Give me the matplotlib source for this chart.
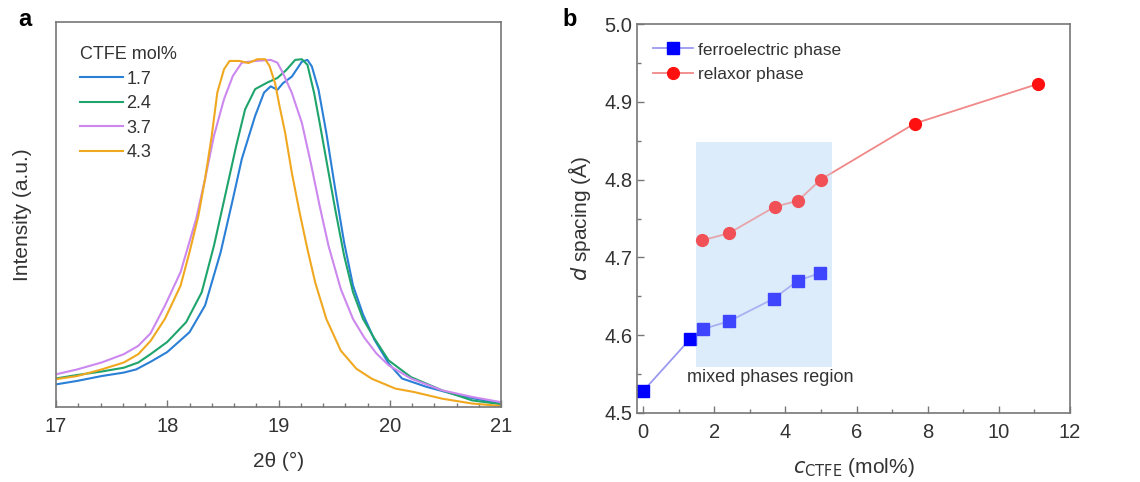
import matplotlib.pyplot as plt
from matplotlib.ticker import MultipleLocator
from matplotlib.patches import Rectangle

plt.rcParams["font.family"] = ["Liberation Sans", "DejaVu Sans"]

# ---- panel a: XRD peaks (normalised intensity) ----
two_theta_blue = [17.0, 17.19, 17.41, 17.61, 17.72, 17.85, 18.0, 18.2, 18.34, 18.48,
                  18.59, 18.67, 18.79, 18.87, 18.93, 18.99, 19.04, 19.12, 19.21, 19.26,
                  19.3, 19.36, 19.43, 19.51, 19.59, 19.67, 19.76, 19.86, 19.99, 20.11,
                  20.33, 20.61, 20.8, 21.0]
int_blue = [0.065, 0.075, 0.089, 0.099, 0.108, 0.130, 0.158, 0.215, 0.292, 0.445,
            0.598, 0.713, 0.837, 0.904, 0.922, 0.912, 0.931, 0.950, 0.993, 0.998,
            0.979, 0.912, 0.788, 0.626, 0.473, 0.349, 0.266, 0.195, 0.125, 0.082,
            0.058, 0.034, 0.022, 0.010]

two_theta_green = [17.0, 17.19, 17.41, 17.61, 17.74, 17.85, 18.0, 18.17, 18.31, 18.42,
                   18.54, 18.62, 18.7, 18.79, 18.9, 18.99, 19.07, 19.15, 19.21, 19.26,
                   19.32, 19.37, 19.44, 19.51, 19.59, 19.67, 19.76, 19.86, 19.99, 20.19,
                   20.47, 20.74, 21.0]
int_green = [0.082, 0.092, 0.102, 0.113, 0.128, 0.152, 0.187, 0.244, 0.330, 0.464,
             0.636, 0.751, 0.856, 0.914, 0.933, 0.946, 0.969, 0.998, 1.0, 0.984,
             0.903, 0.817, 0.692, 0.568, 0.435, 0.330, 0.253, 0.198, 0.134, 0.086,
             0.048, 0.019, 0.008]

two_theta_purple = [17.0, 17.19, 17.41, 17.61, 17.74, 17.85, 17.98, 18.12, 18.26, 18.34,
                    18.42, 18.51, 18.59, 18.67, 18.79, 18.93, 18.99, 19.04, 19.12, 19.21,
                    19.29, 19.37, 19.45, 19.56, 19.67, 19.77, 19.88, 19.99, 20.19, 20.47,
                    20.74, 21.0]
int_purple = [0.094, 0.108, 0.128, 0.152, 0.176, 0.212, 0.292, 0.388, 0.541, 0.656,
              0.780, 0.885, 0.952, 0.990, 0.995, 0.998, 0.990, 0.960, 0.903, 0.817,
              0.702, 0.578, 0.463, 0.339, 0.253, 0.200, 0.154, 0.120, 0.082, 0.048,
              0.029, 0.014]

two_theta_orange = [17.0, 17.19, 17.41, 17.61, 17.74, 17.85, 17.98, 18.12, 18.2, 18.28,
                    18.34, 18.4, 18.45, 18.51, 18.56, 18.65, 18.73, 18.81, 18.88, 18.92,
                    18.97, 19.01, 19.06, 19.12, 19.19, 19.26, 19.33, 19.43, 19.56, 19.7,
                    19.84, 20.05, 20.22, 20.47, 20.74, 21.0]
int_orange = [0.080, 0.089, 0.108, 0.128, 0.152, 0.190, 0.254, 0.349, 0.445, 0.550,
              0.656, 0.780, 0.904, 0.971, 0.995, 0.995, 0.989, 1.0, 1.0, 0.980,
              0.930, 0.864, 0.788, 0.673, 0.559, 0.454, 0.358, 0.253, 0.162, 0.110,
              0.081, 0.053, 0.043, 0.024, 0.010, 0.003]

ctfe_labels = ["1.7", "2.4", "3.7", "4.3"]

# ---- panel b: d spacing vs CTFE content ----
c_ferro = [0.0, 1.32, 1.69, 2.42, 3.67, 4.35, 4.98]
d_ferro = [4.528, 4.595, 4.608, 4.618, 4.647, 4.670, 4.680]
c_relax = [1.67, 2.41, 3.70, 4.36, 4.99, 7.63, 11.10]
d_relax = [4.722, 4.731, 4.765, 4.773, 4.800, 4.872, 4.923]
mixed_lo, mixed_hi = 1.5, 5.31
mixed_bottom, mixed_top = 4.559, 4.848

text_col = "#333333"
spine_col = "#777777"

fig = plt.figure(figsize=(11.4, 4.82), dpi=100)
ax_a = fig.add_axes([56 / 1140, 1 - 407 / 482, 445 / 1140, 385 / 482])
ax_b = fig.add_axes([637 / 1140, 1 - 413 / 482, 433 / 1140, 389 / 482])

# ---- draw panel a ----
colors_a = ["#2a7fd6", "#1fa46c", "#cc88ee", "#f0a820"]
series = [(two_theta_blue, int_blue), (two_theta_green, int_green),
          (two_theta_purple, int_purple), (two_theta_orange, int_orange)]
for (x, y), col, lab in zip(series, colors_a, ctfe_labels):
    ax_a.plot(x, y, color=col, lw=1.5, label=lab)

ax_a.set_xlim(17, 21)
ax_a.set_ylim(0, 1.107)
ax_a.set_yticks([])
ax_a.xaxis.set_major_locator(MultipleLocator(1))
ax_a.xaxis.set_minor_locator(MultipleLocator(0.2))
ax_a.set_xlabel("2θ (°)", fontsize=15, color=text_col, labelpad=12)
ax_a.set_ylabel("Intensity (a.u.)", fontsize=15, color=text_col, labelpad=17)
leg_a = ax_a.legend(title="CTFE mol%", loc="upper left", frameon=False,
                    fontsize=13, title_fontsize=13, handlelength=2.4,
                    handletextpad=0.2, labelspacing=0.42,
                    bbox_to_anchor=(0.0165, 0.98), alignment="left")
for t in leg_a.get_texts():
    t.set_color(text_col)
leg_a.get_title().set_color(text_col)

# ---- draw panel b ----
ax_b.plot(c_ferro, d_ferro, color="#9a9af0", lw=1.3, marker="s", ms=8,
          mfc="#0000ff", mec="#0000ff", label="ferroelectric phase", zorder=2)
ax_b.plot(c_relax, d_relax, color="#f08888", lw=1.3, marker="o", ms=8.5,
          mfc="#ff1010", mec="#ff1010", label="relaxor phase", zorder=2)
# shaded region: pale fill behind, translucent veil over the markers
ax_b.add_patch(Rectangle((mixed_lo, mixed_bottom), mixed_hi - mixed_lo,
                         mixed_top - mixed_bottom, facecolor="#e2effb",
                         edgecolor="none", zorder=1))
ax_b.add_patch(Rectangle((mixed_lo, mixed_bottom), mixed_hi - mixed_lo,
                         mixed_top - mixed_bottom, facecolor="#cfe6fa",
                         edgecolor="none", alpha=0.3, zorder=3))
ax_b.text(3.58, 4.546, "mixed phases region",
          ha="center", va="center", fontsize=13, color=text_col, zorder=4)

ax_b.set_xlim(-0.17, 12)
ax_b.set_ylim(4.5, 5.0)
ax_b.xaxis.set_major_locator(MultipleLocator(2))
ax_b.xaxis.set_minor_locator(MultipleLocator(1))
ax_b.yaxis.set_major_locator(MultipleLocator(0.1))
ax_b.yaxis.set_minor_locator(MultipleLocator(0.05))
ax_b.yaxis.set_major_formatter(plt.FormatStrFormatter("%.1f"))
ax_b.set_xlabel("$c$$_{\\mathrm{CTFE}}$ (mol%)", fontsize=15, color=text_col, labelpad=10)
ax_b.set_ylabel("$d$ spacing (Å)", fontsize=15, color=text_col, labelpad=8)
leg_b = ax_b.legend(loc="upper left", frameon=False, fontsize=12.5,
                    handlelength=2.3, handletextpad=0.3, labelspacing=0.55,
                    bbox_to_anchor=(0.0, 0.993))
for t in leg_b.get_texts():
    t.set_color(text_col)

for ax in (ax_a, ax_b):
    for s in ax.spines.values():
        s.set_color(spine_col)
        s.set_linewidth(1.2)
    ax.tick_params(which="both", direction="in", colors=spine_col,
                   labelcolor=text_col, labelsize=14.5)
    ax.tick_params(which="major", length=5, width=1)
    ax.tick_params(which="minor", length=3, width=1)
    ax.tick_params(axis="x", which="both", pad=7)

fig.text(18 / 1140, 1 - 20 / 482, "a", fontsize=17, fontweight="bold", va="center")
fig.text(562 / 1140, 1 - 20 / 482, "b", fontsize=17, fontweight="bold", va="center")

fig.savefig("out.png", dpi=100)
